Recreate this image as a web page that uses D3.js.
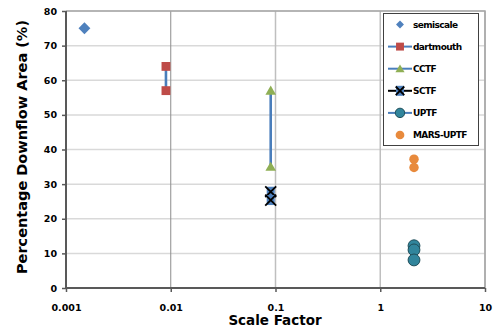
<!DOCTYPE html>
<html>
<head>
<meta charset="utf-8">
<script src="https://cdn.jsdelivr.net/npm/d3@7"></script>
<style>
body { margin: 0; background: #fff; }
text { font-family: "DejaVu Sans", Verdana, sans-serif; font-weight: bold; fill: #000; }
</style>
</head>
<body>
<script>
// series names
var seriesNames = ['semiscale', 'dartmouth', 'CCTF', 'SCTF', 'UPTF', 'MARS-UPTF'];

// scale factor (x) and downflow area (y) per series
var semiscaleX = [0.0015];
var semiscaleY = [75];
var dartmouthX = [0.009, 0.009];
var dartmouthY = [64, 57];
var cctfX = [0.09, 0.09];
var cctfY = [57, 35];
var sctfX = [0.09, 0.09];
var sctfY = [27.8, 25.4];
var uptfX = [2.1, 2.1, 2.1];
var uptfY = [12.2, 11, 8.1];
var marsX = [2.1, 2.1];
var marsY = [37.2, 34.8];

var xTicks = [0.001, 0.01, 0.1, 1, 10];
var xTickLabels = ['0.001', '0.01', '0.1', '1', '10'];
var yTicks = [0, 10, 20, 30, 40, 50, 60, 70, 80];

var width = 494, height = 331;
var margin = {left: 66, right: 9, top: 11, bottom: 43};

var svg = d3.select('body').append('svg')
	.attr('width', width)
	.attr('height', height);

var x = d3.scaleLog()
	.domain([0.001, 10])
	.range([margin.left, width - margin.right]);

var y = d3.scaleLinear()
	.domain([0, 80])
	.range([height - margin.bottom, margin.top]);

// horizontal grid
svg.append('g').selectAll('line')
	.data(yTicks.slice(1))
	.enter().append('line')
		.attr('x1', margin.left).attr('x2', width - margin.right)
		.attr('y1', function(d) { return y(d); })
		.attr('y2', function(d) { return y(d); })
		.attr('stroke', '#d9d9d9')
		.attr('stroke-width', 1.5);

// vertical grid
svg.append('g').selectAll('line')
	.data(xTicks.slice(1))
	.enter().append('line')
		.attr('x1', function(d) { return x(d); })
		.attr('x2', function(d) { return x(d); })
		.attr('y1', margin.top).attr('y2', height - margin.bottom)
		.attr('stroke', function(d) { return d == 0.01 ? '#8c8c8c' : '#bfbfbf'; })
		.attr('stroke-width', function(d) { return d == 0.01 ? 1 : 1.5; });

// plot frame (top / right)
svg.append('path')
	.attr('d', 'M' + margin.left + ',' + y(80) + 'H' + x(10) + 'V' + y(0))
	.attr('fill', 'none')
	.attr('stroke', '#a6a6a6')
	.attr('stroke-width', 1.5);

// axes
var xAxis = svg.append('g')
	.attr('transform', 'translate(0,' + y(0) + ')')
	.call(d3.axisBottom(x).tickValues(xTicks)
		.tickFormat(function(d, i) { return xTickLabels[i]; })
		.tickSize(4).tickPadding(12));

var yAxis = svg.append('g')
	.attr('transform', 'translate(' + margin.left + ',0)')
	.call(d3.axisLeft(y).tickValues(yTicks).tickSize(4).tickPadding(5));

[xAxis, yAxis].forEach(function(a) {
	a.select('.domain').attr('stroke', '#595959').attr('stroke-width', 2);
	a.selectAll('.tick line').attr('stroke', '#595959').attr('stroke-width', 1.5);
	a.selectAll('.tick text').style('font-size', '9.5px').attr('fill', '#000');
});
yAxis.select('.domain').attr('d', 'M0,' + y(80) + 'V' + y(0));
xAxis.select('.domain').attr('d', 'M' + x(0.001) + ',0H' + x(10));

// axis titles
svg.append('text')
	.attr('x', 275).attr('y', 325)
	.attr('text-anchor', 'middle')
	.style('font-size', '13.5px')
	.text('Scale Factor');

svg.append('text')
	.attr('transform', 'translate(27,' + 147 + ') rotate(-90)')
	.attr('text-anchor', 'middle')
	.style('font-size', '14.5px')
	.text('Percentage Downflow Area (%)');

function pts(xs, ys) {
	return xs.map(function(d, i) { return {x: d, y: ys[i]}; });
}

var line = d3.line()
	.x(function(d) { return x(d.x); })
	.y(function(d) { return y(d.y); });

// connecting lines
svg.append('path').datum(pts(dartmouthX, dartmouthY))
	.attr('d', line).attr('fill', 'none').attr('stroke', '#4a7ebb').attr('stroke-width', 2.6);
svg.append('path').datum(pts(cctfX, cctfY))
	.attr('d', line).attr('fill', 'none').attr('stroke', '#4a7ebb').attr('stroke-width', 2.6);
svg.append('path').datum(pts(sctfX, sctfY))
	.attr('d', line).attr('fill', 'none').attr('stroke', '#000').attr('stroke-width', 2.2);

var sym = {
	diamond: d3.symbol().type(d3.symbolDiamond2),
	square: d3.symbol().type(d3.symbolSquare2),
	triangle: d3.symbol().type(d3.symbolTriangle2),
	times: d3.symbol().type(d3.symbolTimes),
	circle: d3.symbol().type(d3.symbolCircle)
};

function drawMarkers(data, fn) {
	var g = svg.append('g');
	g.selectAll('g')
		.data(data)
		.enter().append('g')
			.attr('transform', function(d) { return 'translate(' + x(d.x) + ',' + y(d.y) + ')'; })
			.each(function(d) { fn(d3.select(this)); });
}

function semiscaleMark(g, s) {
	g.append('path').attr('d', sym.diamond.size(s || 90)()).attr('fill', '#4f81bd');
}
function dartMark(g, s) {
	g.append('path').attr('d', sym.square.size(s || 100)()).attr('fill', '#be4b48');
}
function cctfMark(g, s) {
	g.append('path').attr('d', sym.triangle.size(s || 80)()).attr('fill', '#8faf55').attr('transform', 'translate(0,1)');
}
function sctfMark(g, s) {
	g.append('rect').attr('x', -4).attr('y', -5).attr('width', 8).attr('height', 10).attr('fill', '#4f81bd');
	g.append('path').attr('d', sym.times.size(s || 80)()).attr('fill', 'none')
		.attr('stroke', '#000').attr('stroke-width', 1.8);
}
function uptfMark(g, s) {
	g.append('path').attr('d', sym.circle.size(s || 110)()).attr('fill', '#31859c')
		.attr('stroke', '#1f4e5a').attr('stroke-width', 1);
}
function marsMark(g, s) {
	g.append('path').attr('d', sym.circle.size(s || 70)()).attr('fill', '#e88a3c');
}

drawMarkers(pts(semiscaleX, semiscaleY), function(g) { semiscaleMark(g); });
drawMarkers(pts(dartmouthX, dartmouthY), function(g) { dartMark(g); });
drawMarkers(pts(cctfX, cctfY), function(g) { cctfMark(g); });
drawMarkers(pts(sctfX, sctfY), function(g) { sctfMark(g); });
drawMarkers(pts(uptfX, uptfY), function(g) { uptfMark(g); });
drawMarkers(pts(marsX, marsY), function(g) { marsMark(g); });

// legend
var legLines = [null, '#4a7ebb', '#4a7ebb', '#000', '#4a7ebb', null];
var legMarks = [semiscaleMark, dartMark, cctfMark, sctfMark, uptfMark, marsMark];
var legSizes = [40, 80, 60, 50, 70, 60];

var legend = svg.append('g');
legend.append('rect')
	.attr('x', 383.5).attr('y', 13.5).attr('width', 95).attr('height', 132)
	.attr('fill', '#fff').attr('stroke', '#404040').attr('stroke-width', 1);

var items = legend.selectAll('g.item')
	.data(seriesNames)
	.enter().append('g')
		.attr('class', 'item')
		.attr('transform', function(d, i) { return 'translate(0,' + (24.5 + i * 22.1) + ')'; });

items.each(function(d, i) {
	var g = d3.select(this);
	if (legLines[i]) {
		g.append('line').attr('x1', 388).attr('x2', 412).attr('y1', 0).attr('y2', 0)
			.attr('stroke', legLines[i]).attr('stroke-width', 2);
	}
	var m = g.append('g').attr('transform', 'translate(400,0)');
	legMarks[i](m, legSizes[i]);
	g.append('text')
		.attr('x', 413).attr('y', 0).attr('dy', '0.35em')
		.style('font-size', '9px')
		.style('letter-spacing', '-0.6px')
		.text(d);
});
</script>
</body>
</html>
